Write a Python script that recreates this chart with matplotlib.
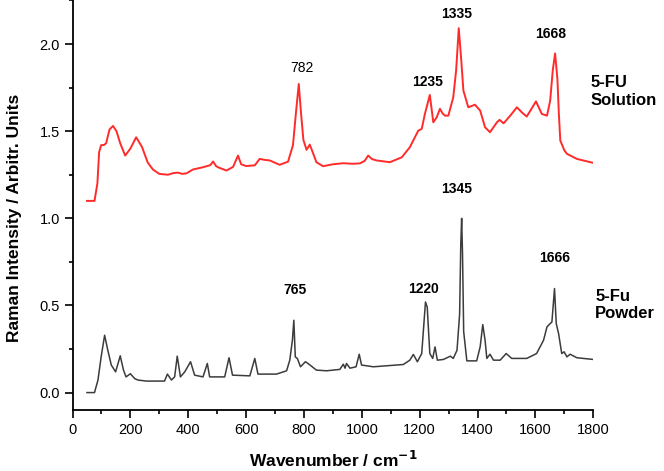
import matplotlib
matplotlib.use('Agg')
import matplotlib.pyplot as plt
from matplotlib.ticker import MultipleLocator

plt.rcParams['font.family'] = ['Liberation Sans', 'DejaVu Sans']

# 5-FU solution spectrum (red)
solution_x = [50, 76, 86, 92, 99, 108, 116, 128, 140, 152, 165, 182, 200, 220, 240,
              260, 278, 300, 330, 350, 364, 380, 394, 416, 451, 476, 486, 496, 503,
              532, 555, 572, 583, 600, 630, 647, 665, 682, 716, 745, 762, 772, 782,
              790, 798, 809, 820, 830, 843, 866, 900, 936, 970, 993, 1010, 1022, 1035,
              1051, 1097, 1138, 1166, 1195, 1207, 1218, 1235, 1247, 1259, 1270, 1280,
              1288, 1299, 1316, 1326, 1335, 1344, 1351, 1368, 1391, 1409, 1426, 1443,
              1467, 1476, 1490, 1513, 1536, 1553, 1570, 1602, 1622, 1640, 1651, 1660,
              1668, 1676, 1681, 1686, 1700, 1709, 1743, 1800]
solution_y = [1.10, 1.10, 1.20, 1.38, 1.42, 1.42, 1.43, 1.51, 1.53, 1.50, 1.43, 1.36,
              1.40, 1.465, 1.41, 1.32, 1.28, 1.255, 1.25, 1.26, 1.262, 1.255, 1.258,
              1.28, 1.293, 1.305, 1.326, 1.30, 1.293, 1.274, 1.295, 1.36, 1.31, 1.30,
              1.304, 1.341, 1.335, 1.332, 1.307, 1.325, 1.42, 1.60, 1.771, 1.60, 1.45,
              1.393, 1.423, 1.38, 1.322, 1.299, 1.31, 1.316, 1.313, 1.315, 1.33, 1.36,
              1.34, 1.332, 1.322, 1.35, 1.408, 1.503, 1.513, 1.599, 1.708, 1.551, 1.58,
              1.628, 1.60, 1.589, 1.589, 1.694, 1.85, 2.091, 1.90, 1.733, 1.637, 1.652,
              1.618, 1.522, 1.494, 1.551, 1.565, 1.545, 1.589, 1.637, 1.608, 1.584,
              1.671, 1.599, 1.589, 1.675, 1.85, 1.946, 1.80, 1.60, 1.446, 1.39, 1.37,
              1.341, 1.318]

# 5-Fu powder spectrum (dark grey)
powder_x = [50, 76, 88, 99, 111, 122, 134, 149, 165, 176, 185, 200, 215, 226, 255,
            318, 328, 342, 353, 362, 373, 388, 408, 422, 451, 466, 474, 526, 541, 553,
            613, 630, 641, 705, 740, 751, 760, 765, 770, 777, 788, 805, 814, 843, 878,
            924, 936, 942, 947, 959, 980, 991, 999, 1040, 1143, 1166, 1178, 1192, 1207,
            1220, 1226, 1235, 1245, 1253, 1261, 1282, 1306, 1316, 1329, 1338, 1342,
            1345, 1348, 1352, 1363, 1397, 1409, 1418, 1426, 1432, 1443, 1455, 1478,
            1499, 1518, 1570, 1604, 1628, 1640, 1651, 1657, 1666, 1672, 1680, 1691,
            1699, 1709, 1720, 1743, 1800]
powder_y = [0.0, 0.0, 0.072, 0.205, 0.329, 0.243, 0.158, 0.119, 0.211, 0.13, 0.09,
            0.108, 0.08, 0.072, 0.066, 0.066, 0.106, 0.072, 0.09, 0.209, 0.09, 0.119,
            0.177, 0.10, 0.09, 0.167, 0.09, 0.09, 0.20, 0.10, 0.096, 0.196, 0.106,
            0.106, 0.125, 0.186, 0.30, 0.415, 0.205, 0.196, 0.148, 0.177, 0.167, 0.129,
            0.125, 0.133, 0.163, 0.14, 0.167, 0.14, 0.148, 0.22, 0.158, 0.148, 0.161,
            0.186, 0.219, 0.177, 0.224, 0.52, 0.491, 0.224, 0.196, 0.262, 0.186, 0.19,
            0.209, 0.196, 0.243, 0.45, 0.85, 1.0, 0.80, 0.35, 0.182, 0.182, 0.262,
            0.39, 0.30, 0.196, 0.22, 0.186, 0.186, 0.224, 0.196, 0.196, 0.224, 0.30,
            0.377, 0.396, 0.405, 0.597, 0.396, 0.339, 0.224, 0.234, 0.205, 0.22, 0.20,
            0.19]

# Peak labels: text, x, y, bold
peak_labels = ['782', '1235', '1335', '1668', '765', '1220', '1345', '1666']
peak_label_x = [794, 1228, 1329, 1651, 770, 1213, 1329, 1665]
peak_label_y = [1.86, 1.784, 2.172, 2.06, 0.591, 0.597, 1.17, 0.773]
peak_label_bold = [False, True, True, True, True, True, True, True]

fig = plt.figure(figsize=(6.64, 4.71), dpi=100)
ax = fig.add_axes([0.1092, 0.1295, 0.7843, 0.8695])

ax.plot(solution_x, solution_y, color='#ff2b2b', linewidth=1.4)
ax.plot(powder_x, powder_y, color='#3c3c3c', linewidth=1.1)

for txt, x, y, bold in zip(peak_labels, peak_label_x, peak_label_y, peak_label_bold):
    ax.text(x, y, txt, ha='center', va='center', fontsize=10,
            fontweight='bold' if bold else 'normal')

# Sample names to the right of the traces
ax.text(1790, 1.727, '5-FU\nSolution', ha='left', va='center', fontsize=12,
        fontweight='bold', linespacing=1.2, clip_on=False)
ax.text(1807, 0.503, '5-Fu\nPowder', ha='left', va='center', fontsize=12,
        fontweight='bold', linespacing=1.2, clip_on=False)

ax.set_xlim(0, 1800)
ax.set_ylim(-0.1, 2.25)
ax.xaxis.set_major_locator(MultipleLocator(200))
ax.xaxis.set_minor_locator(MultipleLocator(100))
ax.yaxis.set_major_locator(MultipleLocator(0.5))
ax.yaxis.set_minor_locator(MultipleLocator(0.25))
ax.yaxis.set_major_formatter(matplotlib.ticker.FormatStrFormatter('%.1f'))

ax.spines['top'].set_visible(False)
ax.spines['right'].set_visible(False)
ax.spines['left'].set_linewidth(1.3)
ax.spines['bottom'].set_linewidth(1.3)
ax.tick_params(which='major', direction='out', length=5.5, width=1.2, labelsize=10.5)
ax.tick_params(which='minor', direction='out', length=3, width=1.2)

ax.set_xlabel('Wavenumber / cm$^{\\mathbf{-1}}$', fontsize=12.5, fontweight='bold', labelpad=10)
ax.set_ylabel('Raman Intensity / Arbitr. Units', fontsize=12.5, fontweight='bold')
ax.yaxis.set_label_coords(-0.097, 0.47)

fig.savefig('out.png', dpi=100)
